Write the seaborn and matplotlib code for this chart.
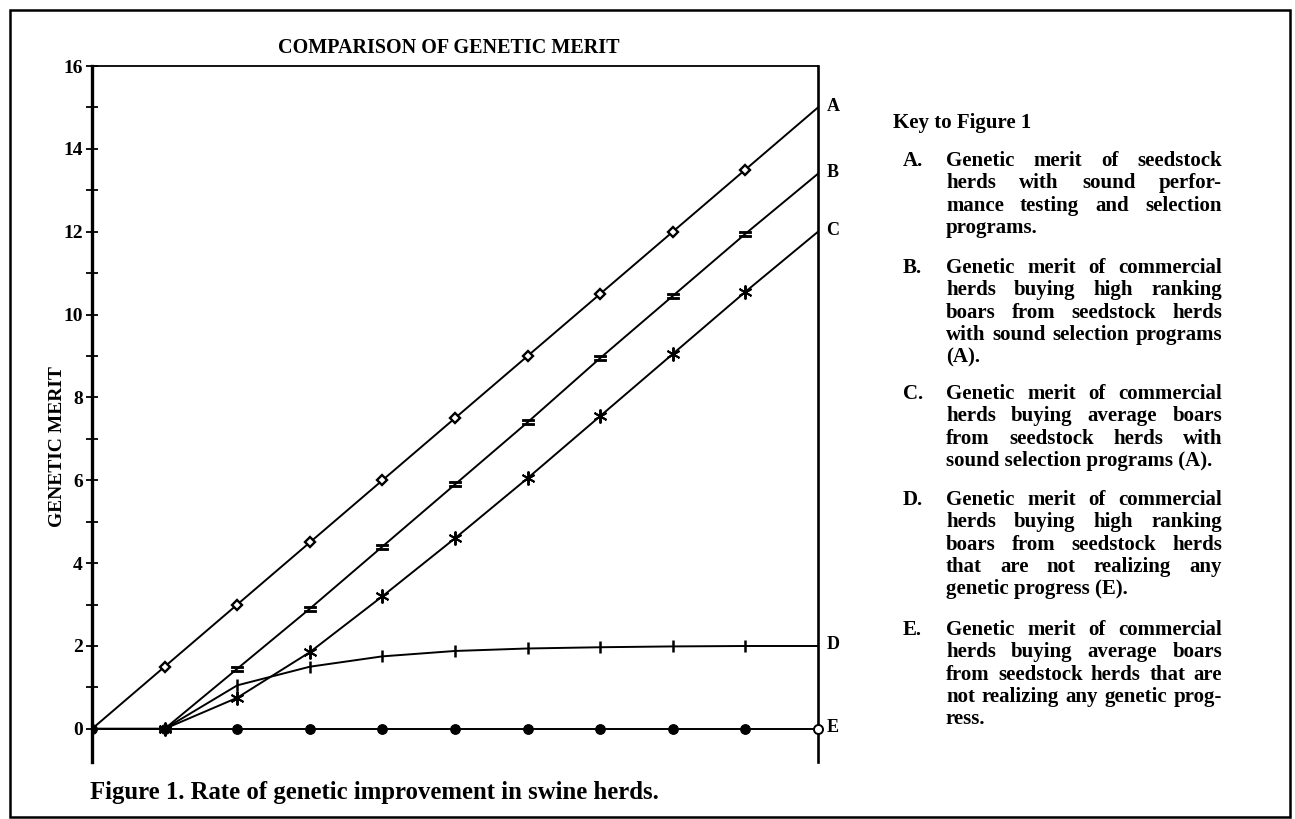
import matplotlib
matplotlib.use("Agg")
import matplotlib.pyplot as plt
import seaborn as sns
import pandas as pd

# data
years = [0, 1, 2, 3, 4, 5, 6, 7, 8, 9, 10]
herd_a = [0, 1.5, 3.0, 4.5, 6.0, 7.5, 9.0, 10.5, 12.0, 13.5, 15.0]
herd_b = [0, 0, 1.45, 2.9, 4.4, 5.9, 7.4, 8.95, 10.45, 11.95, 13.4]
herd_c = [0, 0, 0.75, 1.85, 3.2, 4.6, 6.05, 7.55, 9.05, 10.55, 12.0]
herd_d = [0, 0, 1.05, 1.5, 1.75, 1.88, 1.94, 1.97, 1.99, 2.0, 2.0]
herd_e = [0, 0, 0, 0, 0, 0, 0, 0, 0, 0, 0]
line_names = ["A", "B", "C", "D", "E"]

key_items = [
    ("A.", ["Genetic merit of seedstock", "herds with sound perfor-",
            "mance testing and selection", "programs."]),
    ("B.", ["Genetic merit of commercial", "herds buying high ranking",
            "boars from seedstock herds", "with sound selection programs",
            "(A)."]),
    ("C.", ["Genetic merit of commercial", "herds buying average boars",
            "from seedstock herds with", "sound selection programs (A)."]),
    ("D.", ["Genetic merit of commercial", "herds buying high ranking",
            "boars from seedstock herds", "that are not realizing any",
            "genetic progress (E)."]),
    ("E.", ["Genetic merit of commercial", "herds buying average boars",
            "from seedstock herds that are", "not realizing any genetic prog-",
            "ress."]),
]

sns.set_style("ticks")
plt.rcParams["font.family"] = ["Liberation Serif", "DejaVu Serif"]
plt.rcParams["font.weight"] = "bold"
plt.rcParams["text.color"] = "black"
plt.rcParams["axes.labelcolor"] = "black"
plt.rcParams["axes.edgecolor"] = "black"
plt.rcParams["ytick.color"] = "black"

W, H = 1295, 819
fig = plt.figure(figsize=(W / 100, H / 100), dpi=100)
ax = fig.add_axes([92 / W, 1 - 762 / H, (818 - 92) / W, (762 - 66) / H])

df = pd.DataFrame({"year": years, "A": herd_a, "B": herd_b, "C": herd_c,
                   "D": herd_d, "E": herd_e})

styles = {
    "A": dict(marker="D", markersize=5, markerfacecolor="white",
              markeredgecolor="black", markeredgewidth=1.7, markevery=slice(1, 10)),
    "B": dict(marker="$=$", markersize=9, markeredgecolor="black",
              markeredgewidth=0.6, markevery=slice(1, 10)),
    "C": dict(marker=(6, 2, 0), markersize=10, markeredgecolor="black",
              markeredgewidth=1.4, markevery=slice(1, 10)),
    "D": dict(marker="|", markersize=9, markeredgecolor="black",
              markeredgewidth=1.8, markevery=slice(1, 10)),
    "E": dict(marker="o", markersize=7, markeredgecolor="black",
              markevery=slice(0, 10)),
}
for name in line_names:
    sns.lineplot(data=df, x="year", y=name, ax=ax, color="black", lw=1.4,
                 **styles[name])
# open circle where E meets the right axis
ax.plot(years[-1], herd_e[-1], marker="o", markersize=6.5, mfc="white",
        mec="black", mew=1.4, clip_on=False, zorder=5)

ax.set_xlim(0, 10)
ax.set_ylim(-0.8, 16)
ax.set_xlabel("")
ax.set_ylabel("")
ax.set_xticks([])
ax.set_yticks(range(0, 17, 2))
ax.set_yticks(range(1, 16, 2), minor=True)
ax.tick_params(axis="y", which="both", direction="inout", length=9, width=1.3,
               pad=2, labelsize=14, colors="black")
for lab in ax.get_yticklabels():
    lab.set_fontweight("bold")
ax.spines["bottom"].set_visible(False)
ax.spines["left"].set_linewidth(2.4)
ax.spines["right"].set_linewidth(1.9)
ax.spines["top"].set_linewidth(1.3)

fig.text(58 / W, 1 - 447 / H, "GENETIC MERIT", rotation=90, ha="center",
         va="center", fontsize=14, fontweight="bold")

# end labels on right axis
for name, vals in zip(line_names, [herd_a, herd_b, herd_c, herd_d, herd_e]):
    ax.annotate(name, xy=(10, vals[-1]), xytext=(6, 1), textcoords="offset points",
                ha="left", va="center", fontsize=13, fontweight="bold",
                annotation_clip=False)

fig.text(449 / W, 1 - 53 / H, "COMPARISON OF GENETIC MERIT", ha="center",
         va="baseline", fontsize=14.5, fontweight="bold")
fig.text(90 / W, 1 - 799 / H,
         "Figure 1. Rate of genetic improvement in swine herds.",
         ha="left", va="baseline", fontsize=17.8, fontweight="bold")

# key to figure, justified text
fig.text(893 / W, 1 - 128 / H, "Key to Figure 1", ha="left", va="baseline",
         fontsize=15, fontweight="bold")

fig.canvas.draw()
renderer = fig.canvas.get_renderer()
key_fs = 15
x_left, x_right = 946, 1222
starts = [166, 273, 399, 505, 635]
step = 22.3


def word_width(w):
    t = fig.text(0, 0, w, fontsize=key_fs, fontweight="bold")
    wd = t.get_window_extent(renderer).width
    t.remove()
    return wd


for (letter, lines), y0 in zip(key_items, starts):
    fig.text(903 / W, 1 - y0 / H, letter, ha="left", va="baseline",
             fontsize=key_fs, fontweight="bold")
    for i, line in enumerate(lines):
        y = y0 + i * step
        words = line.split()
        if i == len(lines) - 1 or len(words) == 1:
            fig.text(x_left / W, 1 - y / H, line, ha="left", va="baseline",
                     fontsize=key_fs, fontweight="bold")
            continue
        widths = [word_width(w) for w in words]
        gap = (x_right - x_left - sum(widths)) / (len(words) - 1)
        x = x_left
        for w, wd in zip(words, widths):
            fig.text(x / W, 1 - y / H, w, ha="left", va="baseline",
                     fontsize=key_fs, fontweight="bold")
            x += wd + gap

# border around the whole figure
fig.add_artist(plt.Rectangle((10 / W, 2 / H), 1280 / W, (809 - 2) / H,
                             transform=fig.transFigure, fill=False,
                             lw=1.8, ec="black"))

fig.savefig("out.png", dpi=100)
